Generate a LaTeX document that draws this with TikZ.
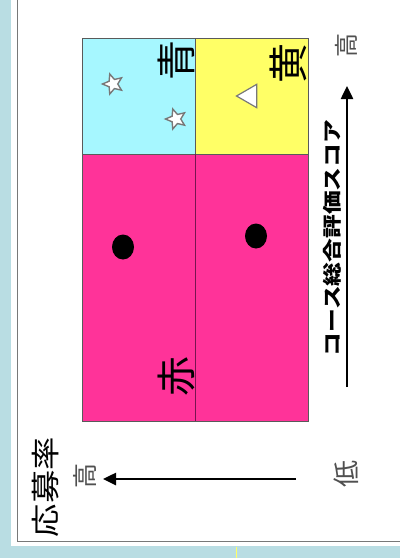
\documentclass[tikz,border=0pt]{standalone}
\usepackage{fontspec}
\newfontfamily\jp{Noto Sans CJK JP}
\usetikzlibrary{shapes.geometric,arrows.meta}
\definecolor{bgblue}{RGB}{185,221,227}
\definecolor{cellcyan}{RGB}{166,247,255}
\definecolor{cellyellow}{RGB}{255,255,102}
\definecolor{cellpink}{RGB}{255,51,153}
\definecolor{framegray}{RGB}{120,120,120}
\definecolor{cellborder}{RGB}{90,90,90}
\definecolor{pinkline}{RGB}{120,20,80}
\definecolor{labgray}{RGB}{80,80,80}
\tikzset{
  cell/.style={draw=cellborder, line width=1pt, inner sep=0pt, outer sep=0pt},
  quadlabel/.style={rotate=90, inner sep=0pt, font=\jp\fontsize{40}{40}\selectfont},
  starmark/.style={star, star points=5, star point ratio=2.2, minimum size=21pt, inner sep=0pt, fill=white, draw=framegray, line width=1.4pt, rotate=90},
  trimark/.style={regular polygon, regular polygon sides=3, minimum size=27pt, inner sep=0pt, fill=white, draw=framegray, line width=1.2pt, shape border rotate=90},
  dotmark/.style={ellipse, fill=black, minimum width=22pt, minimum height=25pt, inner sep=0pt},
  axis/.style={line width=2.5pt, -{Triangle[length=13pt,width=12pt]}},
  graylab/.style={rotate=90, inner sep=0pt, text=labgray, font=\jp\fontsize{25}{25}\selectfont},
}
\begin{document}
\begin{tikzpicture}[x=1pt,y=-1pt]
\useasboundingbox (0,0) rectangle (400,558);
% background
\fill[bgblue] (0,0) rectangle (400,558);
\fill[white] (11,0) rectangle (400,546);
\draw[framegray, line width=1.5pt] (17.5,0) -- (17.5,541.5) -- (400,541.5);
\draw[cellyellow, line width=1pt] (236,546.5) -- (236,558);
% cells
\node[cell, fill=cellpink, minimum width=226pt, minimum height=267pt] (pink) at (195,287.5) {};
\node[cell, fill=cellcyan, minimum width=113pt, minimum height=116pt] (cyan) at (138.5,96) {};
\node[cell, fill=cellyellow, minimum width=113pt, minimum height=116pt] (yellow) at (251.5,96) {};
\draw[pinkline, line width=1pt] (cyan.south east) -- (pink.south);
% quadrant labels
\node[quadlabel] (lblue) at (176,60) {青};
\node[quadlabel] (lyellow) at (288,63) {黄};
\node[quadlabel] (lred) at (176,376) {赤};
% marks
\node[starmark] (s1) at (113,84) {};
\node[starmark] (s2) at (176,119) {};
\node[trimark] (t1) at (250,96) {};
\node[dotmark] (d1) at (123,247) {};
\node[dotmark] (d2) at (256,236) {};
% vertical axis (course score)
\coordinate (ytail) at (347,387);
\coordinate (yhead) at (347,86);
\draw[axis] (ytail) -- (yhead);
\node[graylab, font=\jp\fontsize{24}{24}\selectfont] (yhigh) at (346,45) {高};
\node[rotate=90, inner sep=0pt, font=\jp\bfseries\fontsize{19}{19}\selectfont] (ytitle) at (332,238) {\scalebox{1.25}[1]{コース総合評価スコア}};
% horizontal axis (application rate)
\coordinate (xtail) at (296,479);
\coordinate (xhead) at (103,479);
\draw[axis] (xtail) -- (xhead);
\node[graylab] (xhigh) at (85,476) {高};
\node[graylab, font=\jp\fontsize{27}{27}\selectfont] (xlow) at (346,474) {低};
\node[rotate=90, inner sep=0pt, font=\jp\fontsize{29}{29}\selectfont] (xtitle) at (46,487) {\scalebox{1.15}[1]{応募率}};
\end{tikzpicture}
\end{document}
